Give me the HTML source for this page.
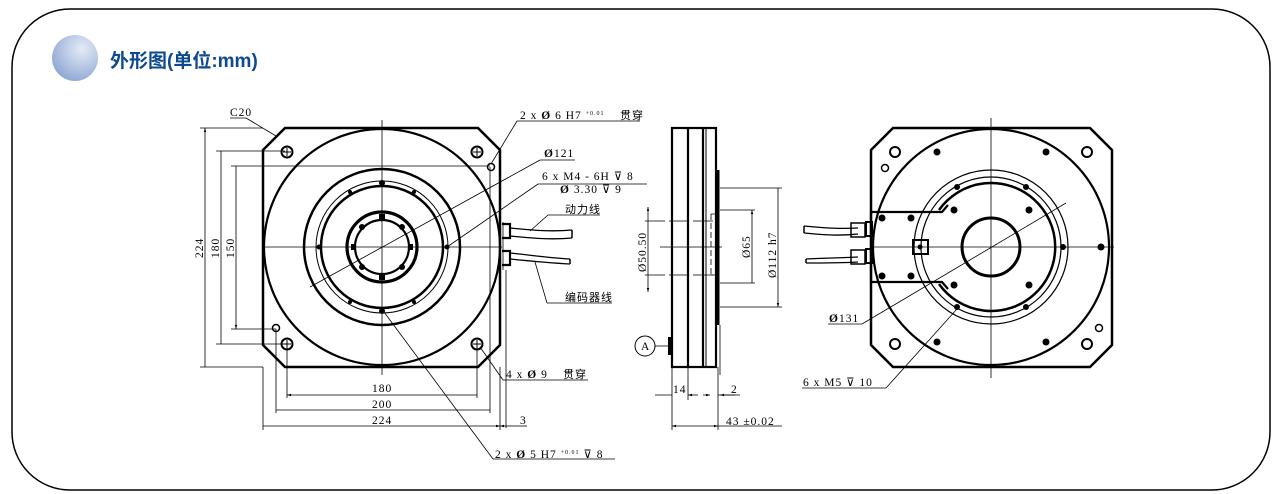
<!DOCTYPE html>
<html><head><meta charset="utf-8"><style>
html,body{margin:0;padding:0;background:#fff;width:1281px;height:494px;overflow:hidden}
svg{display:block}
.t{font-family:"Liberation Serif","Noto Serif CJK SC",serif;font-size:11.5px;fill:#000;letter-spacing:1px}
.c{font-family:"Liberation Serif","Noto Sans CJK SC",sans-serif;font-size:11px;fill:#000;letter-spacing:1px}
</style></head><body>
<svg width="1281" height="494" viewBox="0 0 1281 494" xmlns="http://www.w3.org/2000/svg">
<defs>
<radialGradient id="g" cx="0.65" cy="0.3" r="0.8"><stop offset="0" stop-color="#e4ebf6"/><stop offset="1" stop-color="#8aa3d2"/></radialGradient>
<marker id="a" viewBox="0 0 10 10" refX="10" refY="5" markerWidth="7" markerHeight="5" orient="auto-start-reverse"><path d="M0,2 L10,5 L0,8z" fill="#000"/></marker>
</defs>
<rect x="12" y="9" width="1258" height="481" rx="58" fill="none" stroke="#000" stroke-width="1.5"/>
<circle cx="75" cy="58" r="23" fill="url(#g)"/>
<text x="110" y="67" font-family="'Liberation Sans','Noto Sans CJK SC',sans-serif" font-weight="bold" font-size="19" fill="#0d4a8f">外形图(单位:mm)</text>

<g fill="none" stroke="#000">
<!-- FRONT VIEW -->
<path d="M285,128 L478,128 L500,150 L500,345 L478,367 L285,367 L263,345 L263,150 Z" stroke-width="2.5"/>
<circle cx="382" cy="247" r="118" stroke-width="2.2"/>
<circle cx="382" cy="247" r="78" stroke-width="2.5"/>
<circle cx="382" cy="247" r="66" stroke-width="1"/>
<circle cx="382" cy="247" r="61" stroke-width="2.5"/>
<circle cx="382" cy="247" r="35" stroke-width="3.2"/>
<circle cx="382" cy="247" r="27" stroke-width="2.2"/>
<line x1="382" y1="120" x2="382" y2="375" stroke-width="0.8"/>
<line x1="263" y1="247" x2="502" y2="247" stroke-width="0.8"/>
<g stroke-width="2"><circle cx="287" cy="152" r="5.5"/><circle cx="477" cy="152" r="5.5"/><circle cx="287" cy="344" r="5.5"/><circle cx="477" cy="344" r="5.5"/></g>
<g stroke-width="1"><path d="M283,152h8M287,148v8M473,152h8M477,148v8M283,344h8M287,340v8M473,344h8M477,340v8"/></g>
<circle cx="491" cy="167" r="3.5" stroke-width="1.5"/><circle cx="276" cy="328" r="3.5" stroke-width="1.5"/>
<!-- cables -->
<path d="M502,224 h8 v14 h-8 M502,251 h8 v14 h-8" stroke-width="2.2"/>
<path d="M510,228 C530,230 550,232 572,230 M510,236 C530,238 550,240 572,238 M510,253 C530,255 550,258 570,259 M510,259 C530,261 550,263 570,264" stroke-width="1.3"/>
<path d="M572,230 v8 M570,259 v5" stroke-width="1.5"/>
<path d="M503,222 v48 M506,270 v158" stroke-width="0.8"/>
<!-- front dims -->
<g stroke-width="0.8">
<path d="M263,128 H200 M285,151 H216 M490,166 H231 M263,367 H200 M287,344 H216 M276,329 H231"/>
<path d="M205,128 V367 M221,151 V344 M236,166 V329" marker-start="url(#a)" marker-end="url(#a)"/>
<path d="M287,344 V398 M477,344 V398 M276,329 V413 M490,167 V413 M263,367 V430 M500,367 V430"/>
<path d="M287,395 H477 M276,410 H490 M263,426 H500" marker-start="url(#a)" marker-end="url(#a)"/>
<path d="M500,426 H515" marker-start="url(#a)"/><path d="M515,426 H527"/>
<path d="M246,118 H230 M246,118 L276,136"/>
<path d="M517,121 H640 M517,121 L491,164" />
<path d="M540,160 H575 M540,160 L310,287"/>
<path d="M538,184 H647 M538,184 L447,247"/>
<path d="M548,215 H600 M548,215 L530,231"/>
<path d="M547,303 H612 M547,303 L535,262"/>
<path d="M503,380 H588 M503,380 L480,347"/>
<path d="M493,459 H615 M493,459 L384,312"/>
</g>
</g>
<g fill="#000">
<circle cx="382" cy="183" r="3"/><circle cx="382" cy="311" r="3"/><circle cx="319" cy="247" r="2.5"/><circle cx="447" cy="247" r="2.5"/>
<circle cx="350" cy="192" r="2"/><circle cx="414" cy="192" r="2"/><circle cx="350" cy="302" r="2"/><circle cx="414" cy="302" r="2"/>
<rect x="379" y="214" width="6" height="5"/><rect x="379" y="275" width="6" height="5"/><rect x="351" y="244" width="5" height="6"/><rect x="408" y="244" width="5" height="6"/>
<circle cx="362" cy="227" r="3"/><circle cx="402" cy="227" r="3"/><circle cx="362" cy="267" r="3"/><circle cx="402" cy="267" r="3"/>
</g>
<g>
<text class="t" x="230" y="116">C20</text>
<text class="t" x="520" y="119">2 x <tspan font-weight="bold">Ø</tspan> 6 H7 <tspan font-size="6" dy="-4">+0.01</tspan><tspan dy="4"> </tspan></text>
<text class="c" x="620" y="119">贯穿</text>
<text class="t" x="544" y="157"><tspan font-weight="bold">Ø</tspan>121</text>
<text class="t" x="542" y="180">6 x  M4 - 6H ⊽ 8</text>
<text class="t" x="560" y="193"><tspan font-weight="bold">Ø</tspan> 3.30 ⊽ 9</text>
<text class="c" x="565" y="213">动力线</text>
<text class="c" x="565" y="301">编码器线</text>
<text class="t" x="506" y="378">4 x <tspan font-weight="bold">Ø</tspan> 9 </text><text class="c" x="563" y="378">贯穿</text>
<text class="t" x="372" y="392">180</text><text class="t" x="372" y="408">200</text><text class="t" x="372" y="424">224</text>
<text class="t" x="520" y="424">3</text>
<text class="t" x="495" y="458">2 x <tspan font-weight="bold">Ø</tspan> 5 H7 <tspan font-size="6" dy="-4">+0.01</tspan><tspan dy="4"> ⊽ 8</tspan></text>
<text class="t" transform="translate(203,258) rotate(-90)">224</text>
<text class="t" transform="translate(219,258) rotate(-90)">180</text>
<text class="t" transform="translate(234,258) rotate(-90)">150</text>
</g>

<!-- SIDE VIEW -->
<g fill="none" stroke="#000">
<rect x="672" y="128" width="44" height="239" stroke-width="2.2"/>
<line x1="688" y1="128" x2="688" y2="367" stroke-width="2.2"/>
<line x1="703" y1="128" x2="703" y2="367" stroke-width="2.2"/>
<line x1="706" y1="128" x2="706" y2="367" stroke-width="1"/>
<line x1="718" y1="170" x2="718" y2="325" stroke-width="3"/>
<line x1="720" y1="325" x2="720" y2="375" stroke-width="0.8"/>
<path d="M711,214 V275 M711,214 H716 M711,275 H716" stroke-width="0.8" stroke-dasharray="6,3"/>
<g stroke-width="0.8">
<path d="M645,221 H716 M645,275 H716" stroke-dasharray="20,4"/>
<line x1="660" y1="247" x2="722" y2="247"/>
<path d="M648,207 V292" marker-start="url(#a)" marker-end="url(#a)"/>
<path d="M720,210 H755 M720,283 H755 M720,188 H782 M720,307 H782"/>
<path d="M752,210 V283 M778,188 V307" marker-start="url(#a)" marker-end="url(#a)"/>
<path d="M672,367 V430 M688,367 V400 M718,367 V430"/>
<path d="M655,395 H672 M703,395 H710" marker-end="url(#a)"/><path d="M688,395 H698" marker-start="url(#a)"/>
<path d="M735,395 H720" marker-end="url(#a)"/>
<path d="M672,426 H718" marker-start="url(#a)" marker-end="url(#a)"/>
<path d="M718,426 H782 M718,395 H740"/>
<line x1="655" y1="346" x2="668" y2="346"/>
</g>
<circle cx="645" cy="346" r="10" stroke-width="1"/>
</g>
<rect x="668" y="337" width="4" height="18" fill="#000"/>
<g>
<text class="t" x="673" y="393">14</text><text class="t" x="731" y="393">2</text>
<text class="t" x="726" y="425">43 ±0.02</text>
<text class="t" x="641" y="350" style="letter-spacing:0">A</text>
<text class="t" transform="translate(646,272) rotate(-90)">Ø50.50</text>
<text class="t" transform="translate(750,258) rotate(-90)">Ø65</text>
<text class="t" transform="translate(776,278) rotate(-90)">Ø112 h7</text>
</g>

<!-- REAR VIEW -->
<g fill="none" stroke="#000">
<path d="M893,128 H1090 L1112,150 V345 L1090,367 H893 L871,345 V150 Z" stroke-width="2.5"/>
<circle cx="991" cy="247" r="118" stroke-width="2.2"/>
<circle cx="991" cy="247" r="77" stroke-width="1.2"/>
<circle cx="991" cy="247" r="70" stroke-width="1.2"/>
<path d="M939,210 A64,64 0 1 1 939,284" stroke-width="2.5"/>
<circle cx="991" cy="247" r="29" stroke-width="3"/>
<path d="M871,212 H942 L948,205 M871,282 H942 L948,289 M871,212 V282" stroke-width="2.2"/>
<rect x="913" y="240" width="15" height="14" stroke-width="2"/>
<line x1="991" y1="118" x2="991" y2="378" stroke-width="0.8"/>
<line x1="871" y1="247" x2="1114" y2="247" stroke-width="0.8"/>
<g stroke-width="2"><circle cx="895" cy="152" r="5"/><circle cx="1087" cy="152" r="5"/><circle cx="895" cy="344" r="5"/><circle cx="1087" cy="344" r="5"/></g>
<circle cx="885" cy="168" r="3.5" stroke-width="1.5"/><circle cx="1099" cy="328" r="3.5" stroke-width="1.5"/>
<path d="M866,222 h6 v14 h-6 z M866,249 h6 v14 h-6 z" stroke-width="2"/>
<path d="M804,226 C825,228 840,229 858,228 M804,233 C825,235 840,236 858,234 M806,259 C825,258 840,258 858,257 M806,263 C825,263 840,263 858,262" stroke-width="1.3"/>
<path d="M804,226 v7 M806,259 v4" stroke-width="1.5"/>
<path d="M851,223 h14 v14 h-14 z M851,250 h14 v14 h-14 z" stroke-width="1.5"/>
<g stroke-width="0.8">
<path d="M828,324 H862 L1066,203"/>
<path d="M802,388 H886 L957,309"/>
</g>
</g>
<g fill="#000">
<circle cx="937" cy="152" r="3.5"/><circle cx="1046" cy="152" r="3.5"/><circle cx="937" cy="342" r="3.5"/><circle cx="1046" cy="342" r="3.5"/>
<circle cx="957" cy="187" r="3"/><circle cx="1026" cy="187" r="3"/><circle cx="957" cy="307" r="3"/><circle cx="1026" cy="307" r="3"/>
<circle cx="954" cy="210" r="3.5"/><circle cx="1029" cy="210" r="3.5"/><circle cx="954" cy="285" r="3.5"/><circle cx="1029" cy="285" r="3.5"/>
<circle cx="882" cy="218" r="3.5"/><circle cx="911" cy="218" r="3.5"/><circle cx="882" cy="276" r="3.5"/><circle cx="911" cy="276" r="3.5"/>
<circle cx="1063" cy="247" r="3"/><circle cx="1101" cy="247" r="3.5"/><circle cx="920" cy="247" r="2.5"/>
</g>
<g>
<text class="t" x="829" y="322"><tspan font-weight="bold">Ø</tspan>131</text>
<text class="t" x="803" y="386">6 x  M5 ⊽ 10</text>
</g>
</svg>
</body></html>
